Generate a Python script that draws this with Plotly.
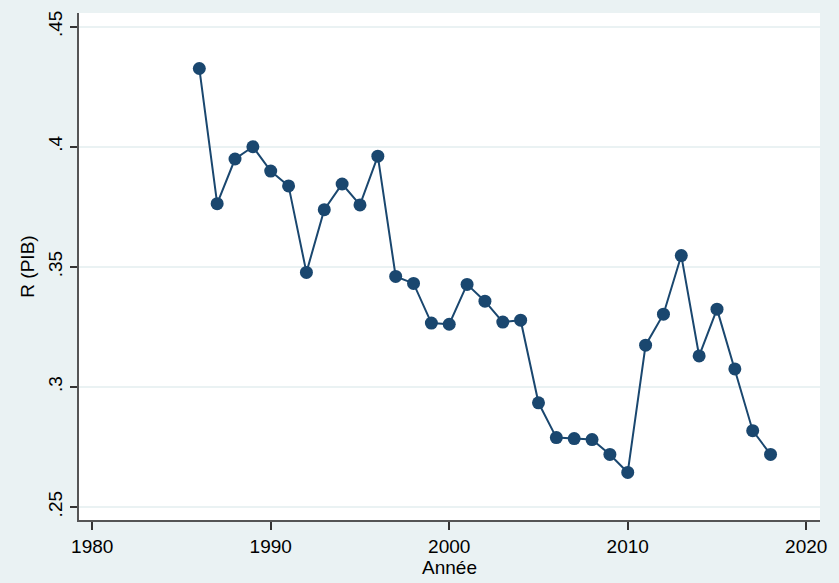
import plotly.graph_objects as go

years = list(range(1986, 2019))
r_pib = [0.4326, 0.3763, 0.3949, 0.4000, 0.3899, 0.3837, 0.3477, 0.3738,
         0.3845, 0.3758, 0.3961, 0.3460, 0.3431, 0.3266, 0.3261, 0.3427,
         0.3357, 0.3270, 0.3278, 0.2934, 0.2789, 0.2785, 0.2781, 0.2719,
         0.2644, 0.3174, 0.3303, 0.3547, 0.3129, 0.3324, 0.3075, 0.2818,
         0.2719]

y_ticks = [0.25, 0.30, 0.35, 0.40, 0.45]
y_labels = [".25", ".3", ".35", ".4", ".45"]
x_ticks = [1980, 1990, 2000, 2010, 2020]

navy = "#1A476F"
bg = "#EAF2F3"

fig = go.Figure()
fig.add_trace(go.Scatter(
    x=years, y=r_pib, mode="lines+markers",
    line=dict(color=navy, width=2),
    marker=dict(color=navy, size=13),
    showlegend=False,
))

fig.update_layout(
    width=839, height=583,
    margin=dict(l=79, r=19, t=11, b=63),
    paper_bgcolor=bg, plot_bgcolor="white",
    font=dict(family="Liberation Sans, Arial", size=19, color="black"),
)
fig.update_xaxes(
    range=[1979.26, 2020.77], tickvals=x_ticks,
    showgrid=False, zeroline=False,
    showline=True, linecolor="#555555", linewidth=2,
    ticks="outside", ticklen=8, tickcolor="#333333", tickwidth=1.5,
    tickfont=dict(size=19),
    title=dict(text="Année", standoff=2, font=dict(size=19)),
)
fig.update_yaxes(
    range=[0.2446, 0.4557], tickvals=y_ticks, ticktext=y_labels,
    tickangle=-90,
    showgrid=True, gridcolor="#EAF2F3", gridwidth=1.5, zeroline=False,
    showline=True, linecolor="#555555", linewidth=2,
    ticks="outside", ticklen=7, tickcolor="#333333", tickwidth=1.5,
    tickfont=dict(size=19),
    title=dict(text="R (PIB)", standoff=6, font=dict(size=19)),
)

# drop the browser's default body margin so the figure sits at 0,0
fig.write_html("out.html", config={"displayModeBar": False},
               post_script="document.body.style.margin='0px';")
